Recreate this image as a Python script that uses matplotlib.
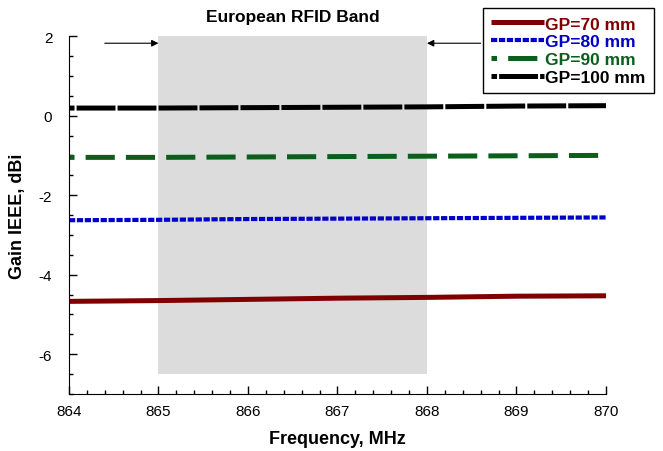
import matplotlib
matplotlib.use('Agg')
import matplotlib.pyplot as plt
from matplotlib.ticker import MultipleLocator

plt.rcParams['font.family'] = ['Liberation Sans', 'DejaVu Sans']
plt.rcParams['lines.scale_dashes'] = False
plt.rcParams['axes.unicode_minus'] = False

# data
freq = [864, 865, 866, 867, 868, 869, 870]
gp70 = [-4.67, -4.65, -4.62, -4.59, -4.57, -4.54, -4.53]
gp80 = [-2.63, -2.62, -2.60, -2.59, -2.58, -2.57, -2.56]
gp90 = [-1.05, -1.05, -1.04, -1.03, -1.02, -1.01, -1.00]
gp100 = [0.19, 0.19, 0.20, 0.21, 0.22, 0.24, 0.25]
band = (865, 868)
labels = ['GP=70 mm', 'GP=80 mm', 'GP=90 mm', 'GP=100 mm']
colors = ['#800000', '#0000c8', '#0b5e1c', '#000000']

fig = plt.figure(figsize=(6.63, 4.52), dpi=100)
ax = fig.add_axes([0.104, 0.126, 0.81, 0.792])

ax.fill_between(band, -6.5, 2.15, color='#dcdcdc', lw=0, zorder=0)

l70, = ax.plot(freq, gp70, color=colors[0], lw=3.6, solid_capstyle='butt')
l80, = ax.plot(freq, gp80, color=colors[1], lw=3.0, dash_capstyle='butt',
               linestyle=(0, (4.5, 1.2)))
l90, = ax.plot(freq, gp90, color=colors[2], lw=3.6, dash_capstyle='butt',
               linestyle=(17, (21, 8)))
l100, = ax.plot(freq, gp100, color=colors[3], lw=3.6, dash_capstyle='butt',
                linestyle=(24, (28, 1.5)))

ax.set_xlim(864, 870)
ax.set_ylim(-7, 2)
ax.xaxis.set_major_locator(MultipleLocator(1))
ax.xaxis.set_minor_locator(MultipleLocator(0.2))
ax.yaxis.set_major_locator(MultipleLocator(2))
ax.yaxis.set_minor_locator(MultipleLocator(0.5))
ax.tick_params(which='both', direction='in', labelsize=11, width=1)
ax.tick_params(which='major', length=6)
ax.tick_params(axis='x', which='major', pad=7)
ax.tick_params(axis='y', which='major', pad=12)
ax.tick_params(which='minor', length=3)
for s in ['top', 'right']:
    ax.spines[s].set_visible(False)

ax.set_xlabel('Frequency, MHz', fontsize=13, fontweight='bold', labelpad=9)
ax.set_ylabel('Gain IEEE, dBi', fontsize=13, fontweight='bold')
ax.yaxis.set_label_coords(-0.08, 0.5)

ax.text(866.5, 2.5, 'European RFID Band', ha='center', va='center',
        fontsize=12.5, fontweight='bold', clip_on=False)
ax.annotate('', xy=(865, 1.82), xytext=(864.4, 1.82),
            arrowprops=dict(arrowstyle='-|>', color='black', lw=0.8,
                            mutation_scale=10, shrinkA=0, shrinkB=0))
ax.annotate('', xy=(868, 1.82), xytext=(868.6, 1.82),
            arrowprops=dict(arrowstyle='-|>', color='black', lw=0.8,
                            mutation_scale=10, shrinkA=0, shrinkB=0))

leg = ax.legend([l70, l80, l90, l100], labels, loc='upper right',
                bbox_to_anchor=(1.0, 1.0), bbox_transform=fig.transFigure,
                prop={'weight': 'bold', 'size': 12.5}, handlelength=3.0,
                handletextpad=0.1, labelspacing=0.15, borderpad=0.5,
                fancybox=False, framealpha=1, edgecolor='black')
leg.get_frame().set_linewidth(1.0)
for t, c in zip(leg.get_texts(), colors):
    t.set_color(c)

fig.savefig('out.png', dpi=100)
